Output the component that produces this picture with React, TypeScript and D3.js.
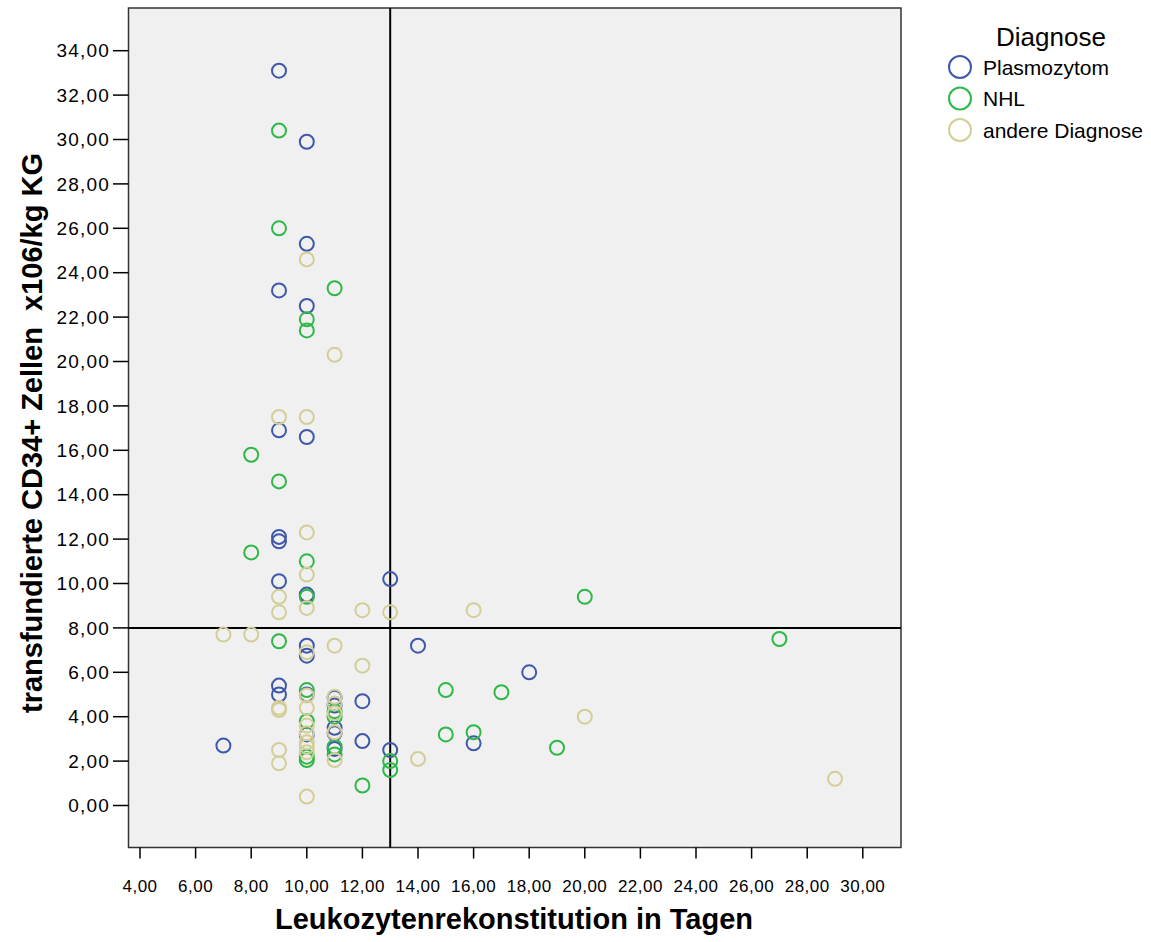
import React from "react";
import * as d3 from "d3";

// ---- data ----
const plasmoX = [9, 10, 10, 9, 10, 9, 10, 9, 9, 9, 10, 13, 14, 18, 10, 10, 9, 9, 10, 7, 12, 12, 13, 16, 10, 11, 11, 11, 11, 11];
const plasmoY = [33.1, 29.9, 25.3, 23.2, 22.5, 16.9, 16.6, 12.1, 11.9, 10.1, 9.5, 10.2, 7.2, 6.0, 7.2, 6.75, 5.4, 5.0, 5.0, 2.7, 4.7, 2.9, 2.5, 2.8, 3.2, 4.85, 4.5, 3.5, 3.25, 2.55];

const nhlX = [9, 9, 11, 10, 10, 8, 9, 8, 10, 10, 9, 20, 27, 15, 17, 15, 16, 19, 12, 13, 13, 10, 10, 10, 10, 11, 11, 11, 11];
const nhlY = [30.4, 26.0, 23.3, 21.9, 21.4, 15.8, 14.6, 11.4, 11.0, 9.4, 7.4, 9.4, 7.5, 5.2, 5.1, 3.2, 3.3, 2.6, 0.9, 2.0, 1.6, 5.2, 3.8, 2.2, 2.05, 4.25, 4.0, 2.65, 2.3];

const andereX = [10, 11, 9, 10, 10, 10, 9, 10, 9, 12, 13, 16, 7, 8, 11, 10, 12, 20, 14, 29, 9, 9, 9, 9, 10, 10, 10, 10, 10, 10, 10, 10, 11, 11, 11, 11, 11];
const andereY = [24.6, 20.3, 17.5, 17.5, 12.3, 10.4, 9.4, 8.9, 8.7, 8.8, 8.7, 8.8, 7.7, 7.7, 7.2, 6.9, 6.3, 4.0, 2.1, 1.2, 4.4, 4.3, 2.5, 1.9, 4.95, 4.4, 3.6, 3.25, 2.85, 2.65, 2.4, 0.4, 4.9, 4.6, 4.15, 3.3, 2.05];

const seriesNames = ["Plasmozytom", "NHL", "andere Diagnose"];
const seriesColors = ["#3E58AC", "#2EB848", "#D3CE97"];

const xTicks = d3.range(4, 31, 2);
const yTicks = d3.range(0, 35, 2);
const refX = 13;
const refY = 8;

const fmt = (v: number) => v.toFixed(2).replace(".", ",");

export default function App() {
  const W = 1151, H = 942;
  const plot = { left: 128.5, right: 901, top: 8, bottom: 847.5 };
  const x = d3.scaleLinear().domain([4, 30]).range([140, 862.8]);
  const y = d3.scaleLinear().domain([0, 34]).range([805.5, 50.7]);

  const series = [
    { xs: plasmoX, ys: plasmoY },
    { xs: nhlX, ys: nhlY },
    { xs: andereX, ys: andereY },
  ];

  const font = "Arial, 'Liberation Sans', sans-serif";

  return (
    <svg width={W} height={H} style={{ position: "absolute", left: 0, top: 0, display: "block" }} fontFamily={font}>
      <rect x={0} y={0} width={W} height={H} fill="#ffffff" />
      <rect x={plot.left} y={plot.top} width={plot.right - plot.left} height={plot.bottom - plot.top} fill="#f0f0f0" stroke="#333" strokeWidth={1.5} />

      {/* y ticks */}
      {yTicks.map((t) => (
        <g key={"y" + t}>
          <line x1={113} x2={plot.left} y1={y(t)} y2={y(t)} stroke="#000" strokeWidth={1.5} />
          <text x={110} y={y(t)} dy="0.35em" textAnchor="end" fontSize={19} letterSpacing={1.2} fill="#000">{fmt(t)}</text>
        </g>
      ))}
      {/* x ticks */}
      {xTicks.map((t) => (
        <g key={"x" + t}>
          <line x1={x(t)} x2={x(t)} y1={plot.bottom} y2={plot.bottom + 11} stroke="#000" strokeWidth={1.5} />
          <text x={x(t)} y={892} textAnchor="middle" fontSize={17} letterSpacing={0.5} fill="#000">{fmt(t)}</text>
        </g>
      ))}

      {/* reference lines */}
      <line x1={x(refX)} x2={x(refX)} y1={plot.top} y2={plot.bottom} stroke="#000" strokeWidth={2} />
      <line x1={plot.left} x2={plot.right} y1={y(refY)} y2={y(refY)} stroke="#000" strokeWidth={2} />

      {/* points */}
      {series.map((s, si) => (
        <g key={"s" + si}>
          {s.xs.map((xv, i) => (
            <circle key={i} cx={x(xv)} cy={y(s.ys[i])} r={7} fill="none" stroke={seriesColors[si]} strokeWidth={2} />
          ))}
        </g>
      ))}

      {/* axis titles */}
      <text x={514} y={929} textAnchor="middle" fontSize={29} fontWeight="bold" fill="#000">Leukozytenrekonstitution in Tagen</text>
      <text transform={`translate(42,433) rotate(-90)`} textAnchor="middle" fontSize={29} fontWeight="bold" fill="#000" xmlSpace="preserve">transfundierte CD34+ Zellen  x106/kg KG</text>

      {/* legend */}
      <text x={1051} y={46} textAnchor="middle" fontSize={26} fill="#000">Diagnose</text>
      {seriesNames.map((n, i) => (
        <g key={n}>
          <circle cx={960} cy={67 + i * 31.5} r={11} fill="none" stroke={seriesColors[i]} strokeWidth={2} />
          <text x={983} y={67 + i * 31.5} dy="0.36em" fontSize={21} fill="#000">{n}</text>
        </g>
      ))}
    </svg>
  );
}
